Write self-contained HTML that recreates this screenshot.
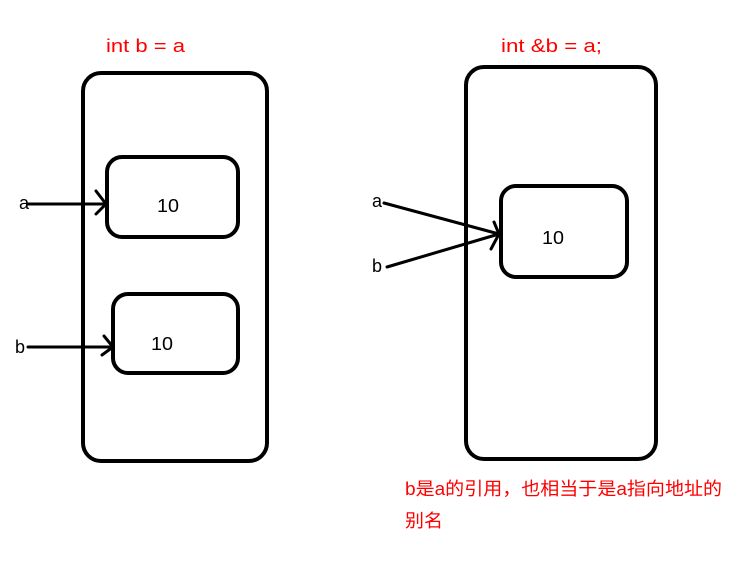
<!DOCTYPE html>
<html><head><meta charset="utf-8"><style>html,body{margin:0;padding:0;background:#fff}</style></head><body>
<svg width="743" height="564" xmlns="http://www.w3.org/2000/svg" style="display:block">
<g fill="none" stroke="#000" stroke-width="4" stroke-linecap="round" stroke-linejoin="round">
<rect x="83" y="73" width="184" height="388" rx="18"/>
<rect x="107" y="157" width="131" height="80" rx="15"/>
<rect x="113" y="294" width="125" height="79" rx="15"/>
<rect x="466" y="67" width="190" height="392" rx="18"/>
<rect x="501" y="186" width="126" height="91" rx="15"/>
</g>
<g fill="none" stroke="#000" stroke-width="3" stroke-linecap="round">
<line x1="28" y1="204" x2="106" y2="204"/>
<polyline points="96,191 106,204 96,214"/>
<line x1="28" y1="347" x2="113" y2="347"/>
<polyline points="104,336 113,347 102,355"/>
<line x1="384" y1="203" x2="499" y2="234"/>
<line x1="387" y1="267" x2="499" y2="234"/>
<polyline points="494,222 499,234 491,249"/>
</g>
<g font-family="Liberation Sans, sans-serif" font-size="18" fill="#000">
<text x="19" y="209">a</text>
<text x="15" y="353">b</text>
<text x="372" y="207">a</text>
<text x="372" y="272">b</text>
<text x="157" y="212" textLength="22" lengthAdjust="spacingAndGlyphs">10</text>
<text x="151" y="350" textLength="22" lengthAdjust="spacingAndGlyphs">10</text>
<text x="542" y="244" textLength="22" lengthAdjust="spacingAndGlyphs">10</text>
</g>
<g font-family="Liberation Sans, 'Noto Sans CJK SC', sans-serif" font-size="18" fill="#ff0000">
<text x="106" y="52" textLength="79" lengthAdjust="spacingAndGlyphs">int b = a</text>
<text x="501" y="52" textLength="101" lengthAdjust="spacingAndGlyphs">int &amp;b = a;</text>
<text x="405" y="495" textLength="317" lengthAdjust="spacingAndGlyphs">b是a的引用，也相当于是a指向地址的</text>
<text x="405" y="527" textLength="38" lengthAdjust="spacingAndGlyphs">别名</text>
</g>
</svg>
</body></html>
